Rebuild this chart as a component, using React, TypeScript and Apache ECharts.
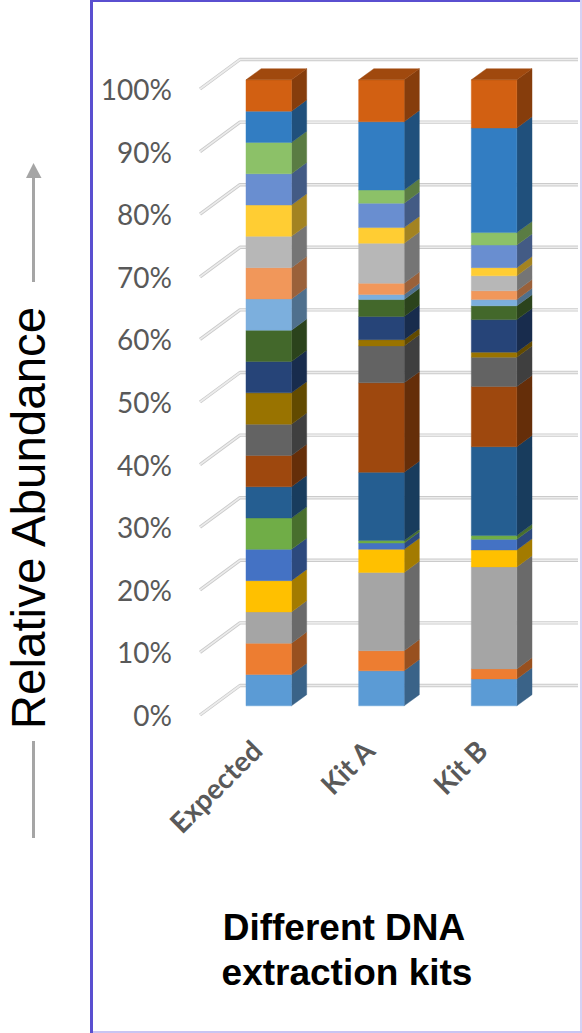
import React, { useEffect, useRef } from "react";
import * as echarts from "echarts";

const categories = ["Expected", "Kit A", "Kit B"];
const valueTicks = [0, 10, 20, 30, 40, 50, 60, 70, 80, 90, 100];

// Share of each community member (%), listed bottom of the stack to top.
const expected = [5, 5, 5, 5, 5, 5, 5, 5, 5, 5, 5, 5, 5, 5, 5, 5, 5, 5, 5, 5];
const kitA = [5.6, 3.2, 12.5, 3.7, 1.0, 0.4, 10.9, 14.3, 5.9, 1.0, 3.7, 2.7, 0.8, 1.8, 6.4, 2.5, 3.9, 2.1, 10.9, 6.7];
const kitB = [4.3, 1.6, 16.3, 2.7, 1.7, 0.6, 14.2, 9.6, 4.7, 0.8, 5.2, 2.2, 1.0, 1.4, 2.4, 1.3, 3.6, 2.0, 16.7, 7.7];

const palette = [
  "#5B9BD5", "#ED7D31", "#A5A5A5", "#FFC000", "#4472C4",
  "#70AD47", "#255E91", "#9E480E", "#636363", "#997300",
  "#264478", "#43682B", "#7CAFDD", "#F1975A", "#B7B7B7",
  "#FFCD33", "#698ED0", "#8CC168", "#327DC2", "#D26012",
];

const columns = [expected, kitA, kitB];

// Oblique projection of the box: wall depth, and where a bar sits inside it.
const WALL_DX = 40;
const WALL_DY = -29.5;
const BAR_NEAR = 0.31;
const BAR_FAR = 0.69;
const BAR_RATIO = 0.404;

function shade(hex: string, k: number) {
  const n = parseInt(hex.slice(1), 16);
  const c = [(n >> 16) & 255, (n >> 8) & 255, n & 255].map((v) => Math.round(v * k));
  return `rgb(${c[0]},${c[1]},${c[2]})`;
}

function wallItem(params: any, api: any) {
  const p = api.coord([0, api.value(0)]);
  const g = params.coordSys;
  const pts = [
    [g.x, p[1]],
    [g.x + WALL_DX, p[1] + WALL_DY],
    [g.x + g.width + WALL_DX, p[1] + WALL_DY],
  ];
  return {
    type: "group",
    children: [
      { type: "polyline", shape: { points: pts }, style: { stroke: "#cbcbcb", lineWidth: 3.4, fill: null, lineJoin: "round" } },
      { type: "polyline", shape: { points: pts }, style: { stroke: "#ececec", lineWidth: 1.6, fill: null, lineJoin: "round" } },
    ],
  };
}

function segmentItem(color: string, isTop: boolean) {
  return (_params: any, api: any) => {
    const cat = api.value(0);
    const a = api.coord([cat, api.value(1)]);
    const b = api.coord([cat, api.value(2)]);
    const w = api.size([1, 0])[0] * BAR_RATIO;
    const nx = WALL_DX * BAR_NEAR;
    const ny = WALL_DY * BAR_NEAR;
    const sx = WALL_DX * (BAR_FAR - BAR_NEAR);
    const sy = WALL_DY * (BAR_FAR - BAR_NEAR);
    const x0 = a[0] - w / 2 + nx;
    const x1 = x0 + w;
    const y0 = a[1] + ny;
    const y1 = b[1] + ny;
    const face = (points: number[][], fill: string) => ({
      type: "polygon",
      shape: { points },
      style: { fill, stroke: fill, lineWidth: 0.4 },
    });
    const children = [
      face([[x1, y0], [x1 + sx, y0 + sy], [x1 + sx, y1 + sy], [x1, y1]], shade(color, 0.64)),
      face([[x0, y0], [x1, y0], [x1, y1], [x0, y1]], color),
    ];
    if (isTop) {
      children.push(face([[x0, y1], [x1, y1], [x1 + sx, y1 + sy], [x0 + sx, y1 + sy]], shade(color, 0.76)));
    }
    return { type: "group", children };
  };
}

export default function App() {
  const ref = useRef<HTMLDivElement>(null);

  useEffect(() => {
    document.body.style.margin = "0";
    const chart = echarts.init(ref.current!, undefined, { renderer: "svg" });

    const stacks = palette.map((color, s) => ({
      type: "custom",
      coordinateSystem: "cartesian2d",
      z: 3,
      clip: false,
      renderItem: segmentItem(color, s === palette.length - 1),
      encode: { x: 0, y: [1, 2] },
      data: columns.map((col, c) => {
        const start = col.slice(0, s).reduce((t, v) => t + v, 0);
        return [c, start, start + col[s]];
      }),
    }));

    chart.setOption({
      animation: false,
      backgroundColor: "#ffffff",
      grid: { left: 200, top: 89, width: 338, height: 626 },
      xAxis: {
        type: "category",
        data: categories,
        axisLine: { show: false },
        axisTick: { show: false },
        axisLabel: {
          rotate: 45,
          margin: 30,
          interval: 0,
          fontFamily: "Lato",
          fontWeight: "bold",
          fontSize: 28,
          color: "#595959",
        },
      },
      yAxis: {
        type: "value",
        min: 0,
        max: 100,
        interval: 10,
        axisLine: { show: false },
        axisTick: { show: false },
        splitLine: { show: false },
        axisLabel: {
          margin: 28,
          fontFamily: "Lato",
          fontSize: 28,
          color: "#595959",
          formatter: (v: number) => `${v}%`,
        },
      },
      series: [
        {
          type: "custom",
          coordinateSystem: "cartesian2d",
          z: 1,
          clip: false,
          renderItem: wallItem,
          encode: { y: 0 },
          data: valueTicks.map((v) => [v]),
        },
        ...stacks,
      ],
      graphic: [
        { type: "rect", z: 0, shape: { x: 90, y: 0, width: 3, height: 1033 }, style: { fill: "#5a4fd0" } },
        { type: "rect", z: 0, shape: { x: 90, y: 0, width: 492, height: 2 }, style: { fill: "#5a4fd0" } },
        { type: "rect", z: 0, shape: { x: 580, y: 0, width: 2, height: 1033 }, style: { fill: "#d6d2f4" } },
        { type: "rect", z: 0, shape: { x: 93, y: 1031, width: 489, height: 2 }, style: { fill: "#c9c4f2" } },
        { type: "rect", shape: { x: 32, y: 178, width: 3, height: 104 }, style: { fill: "#a5a5a5" } },
        { type: "polygon", shape: { points: [[33.5, 163], [26, 178], [41.5, 178]] }, style: { fill: "#a5a5a5" } },
        { type: "rect", shape: { x: 32, y: 741, width: 3, height: 97 }, style: { fill: "#a5a5a5" } },
        {
          type: "text",
          x: 28,
          y: 518,
          rotation: Math.PI / 2,
          style: {
            text: "Relative Abundance",
            fontFamily: "Liberation Sans",
            fontSize: 47.5,
            fill: "#000000",
            align: "center",
            verticalAlign: "middle",
          },
        },
        {
          type: "text",
          x: 344,
          y: 927,
          style: {
            text: "Different DNA",
            fontFamily: "Liberation Sans",
            fontWeight: "bold",
            fontSize: 37,
            fill: "#000000",
            align: "center",
            verticalAlign: "middle",
          },
        },
        {
          type: "text",
          x: 347,
          y: 972,
          style: {
            text: "extraction kits",
            fontFamily: "Liberation Sans",
            fontWeight: "bold",
            fontSize: 37,
            fill: "#000000",
            align: "center",
            verticalAlign: "middle",
          },
        },
      ],
    });

    return () => chart.dispose();
  }, []);

  return <div ref={ref} style={{ width: 582, height: 1033 }} />;
}
